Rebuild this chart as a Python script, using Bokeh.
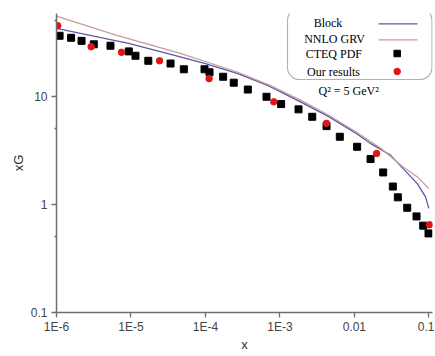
from bokeh.plotting import figure
from bokeh.models import Range1d, FixedTicker, BoxAnnotation, Label
from bokeh.embed import file_html
from bokeh.resources import INLINE

# ---------------- data ----------------
cteq_x = [1.1e-6, 1.57e-6, 2.17e-6, 3.17e-6, 5.31e-6, 9.35e-6, 1.15e-5, 1.71e-5,
          3.40e-5, 5.13e-5, 9.73e-5, 1.135e-4, 1.73e-4, 2.40e-4, 3.71e-4, 6.61e-4,
          1.04e-3, 1.78e-3, 2.72e-3, 4.23e-3, 6.38e-3, 1.09e-2, 1.65e-2, 2.44e-2,
          3.29e-2, 3.84e-2, 5.13e-2, 6.84e-2, 8.41e-2, 9.91e-2]
cteq_y = [36.1, 34.6, 32.4, 30.1, 29.2, 25.9, 23.6, 21.2, 20.0, 17.7, 17.7, 16.6,
          15.1, 13.3, 11.5, 9.86, 8.44, 7.54, 6.44, 5.28, 4.21, 3.40, 2.62, 1.97,
          1.46, 1.16, 0.929, 0.773, 0.635, 0.538]

our_x = [1.04e-6, 2.92e-6, 7.46e-6, 2.42e-5, 1.12e-4, 8.28e-4, 4.23e-3, 1.99e-2, 1.02e-1]
our_y = [44.7, 28.6, 25.4, 21.2, 14.5, 8.85, 5.60, 2.95, 0.647]

block_x = [1e-6, 9.3e-6, 4.6e-5, 1.0e-4, 2.67e-4, 7.1e-4, 1.89e-3, 4.47e-3, 1.06e-2,
           1.6e-2, 3.06e-2, 4.48e-2, 6.98e-2, 9.04e-2, 1e-1]
block_y = [42.3, 30.7, 23.1, 19.95, 16.2, 12.45, 8.85, 6.49, 4.52,
           3.70, 2.85, 2.15, 1.56, 1.17, 0.917]

grv_x = [1e-6, 6.3e-6, 4.6e-5, 1.0e-4, 2.67e-4, 7.1e-4, 1.89e-3, 4.47e-3, 1.06e-2,
         2.24e-2, 4.48e-2, 6.98e-2, 1e-1]
grv_y = [54.8, 36.6, 24.8, 20.9, 16.7, 12.7, 9.18, 6.68, 4.65,
         3.31, 2.22, 1.80, 1.40]

x_ticks = [1e-6, 1e-5, 1e-4, 1e-3, 1e-2, 1e-1]
x_tick_labels = ["1E-6", "1E-5", "1E-4", "1E-3", "0.01", "0.1"]
y_ticks = [0.1, 1, 10]
y_tick_labels = ["0.1", "1", "10"]
y_minor_ticks = [0.5, 5, 50]

series_names = ["Block", "NNLO GRV", "CTEQ PDF", "Our results"]
annotation_text = "Q\u00b2 = 5 GeV\u00b2"

# ---------------- layout helpers ----------------
PX_PER_DEC_X = 74.46
PX_PER_DEC_Y = 108.2
LEFT, TOP = 56, 13
FRAME_W = 376
FRAME_H = 299
W, H = 434, 356
X_LOG0 = -6.0
X_LOG1 = X_LOG0 + FRAME_W / PX_PER_DEC_X
Y_LOG0 = -1.0
Y_LOG1 = Y_LOG0 + FRAME_H / PX_PER_DEC_Y

# canvas pixel -> data
def px2x(px):
    return 10 ** (X_LOG0 + (px - LEFT) / PX_PER_DEC_X)

def py2y(py):
    return 10 ** (Y_LOG0 + (TOP + FRAME_H - py) / PX_PER_DEC_Y)

BLOCK_COLOR = "#5a5aa2"
GRV_COLOR = "#c99a9a"
RED = "#e01515"

p = figure(width=W, height=H, x_axis_type="log", y_axis_type="log",
           x_range=Range1d(10 ** X_LOG0, 10 ** X_LOG1),
           y_range=Range1d(10 ** Y_LOG0, 10 ** Y_LOG1),
           output_backend="svg", toolbar_location=None,
           min_border_left=LEFT, min_border_top=TOP,
           min_border_right=W - LEFT - FRAME_W,
           min_border_bottom=H - TOP - FRAME_H)
p.outline_line_color = None
p.xgrid.grid_line_color = None
p.ygrid.grid_line_color = None
p.background_fill_color = "white"

# axes
p.xaxis.ticker = FixedTicker(ticks=x_ticks, minor_ticks=[])
p.xaxis.major_label_overrides = {t: l for t, l in zip(x_ticks, x_tick_labels)}
p.yaxis.ticker = FixedTicker(ticks=y_ticks, minor_ticks=y_minor_ticks)
p.yaxis.major_label_overrides = {t: l for t, l in zip(y_ticks, y_tick_labels)}
for ax in (p.xaxis, p.yaxis):
    ax.axis_line_color = "#6e6e6e"
    ax.axis_line_width = 1.5
    ax.major_tick_line_color = "#6e6e6e"
    ax.major_tick_line_width = 1.3
    ax.minor_tick_line_color = "#6e6e6e"
    ax.minor_tick_line_width = 1.3
    ax.major_tick_in = 0
    ax.major_tick_out = 5
    ax.minor_tick_in = 0
    ax.minor_tick_out = 2
    ax.major_label_text_font = "Liberation Sans"
    ax.major_label_text_font_size = "12px"
    ax.major_label_text_color = "#444444"
    ax.major_label_standoff = 4
    ax.axis_label_text_font = "Liberation Sans"
    ax.axis_label_text_font_size = "13px"
    ax.axis_label_text_font_style = "normal"
    ax.axis_label_text_color = "#333333"
p.yaxis.axis_label = "xG"
p.yaxis.axis_label_standoff = 2
p.xaxis.axis_label = "x"
p.xaxis.major_label_standoff = 2
p.xaxis.axis_label_standoff = 0

# data
p.line(block_x, block_y, line_color=BLOCK_COLOR, line_width=1.3)
p.line(grv_x, grv_y, line_color=GRV_COLOR, line_width=1.2)
p.scatter(cteq_x, cteq_y, marker="square", size=7, fill_color="black", line_color="black")
p.scatter(our_x, our_y, marker="circle", size=6.5, fill_color=RED, line_color=RED)

# legend (label left, sample right, rounded frame)
p.add_layout(BoxAnnotation(left=px2x(287), right=px2x(431.5), top=py2y(7.5), bottom=py2y(79),
                           fill_color=None, line_color="black", line_width=1.2,
                           border_radius=12, level="overlay"))
label_pos = [(327.5, 22.7), (334, 38.3), (333.3, 53), (333, 71)]
for name, (lx, ly) in zip(series_names, label_pos):
    p.add_layout(Label(x=px2x(lx), y=py2y(ly), text=name, text_align="center",
                       text_baseline="middle", text_font="Liberation Serif",
                       text_font_size="12px", text_color="black"))
p.line([px2x(378), px2x(417)], [py2y(23.3), py2y(23.3)], line_color=BLOCK_COLOR, line_width=1.3)
p.line([px2x(378), px2x(417)], [py2y(39.3), py2y(39.3)], line_color=GRV_COLOR, line_width=1.2)
p.scatter([px2x(396.7)], [py2y(53)], marker="square", size=6.5, fill_color="black", line_color="black")
p.scatter([px2x(396.7)], [py2y(71)], marker="circle", size=6.5, fill_color=RED, line_color=RED)

p.add_layout(Label(x=px2x(318), y=py2y(90), text=annotation_text, text_align="left",
                   text_baseline="middle", text_font="Liberation Serif",
                   text_font_size="12px", text_color="black"))

open("out.html", "w").write(file_html(p, INLINE))
